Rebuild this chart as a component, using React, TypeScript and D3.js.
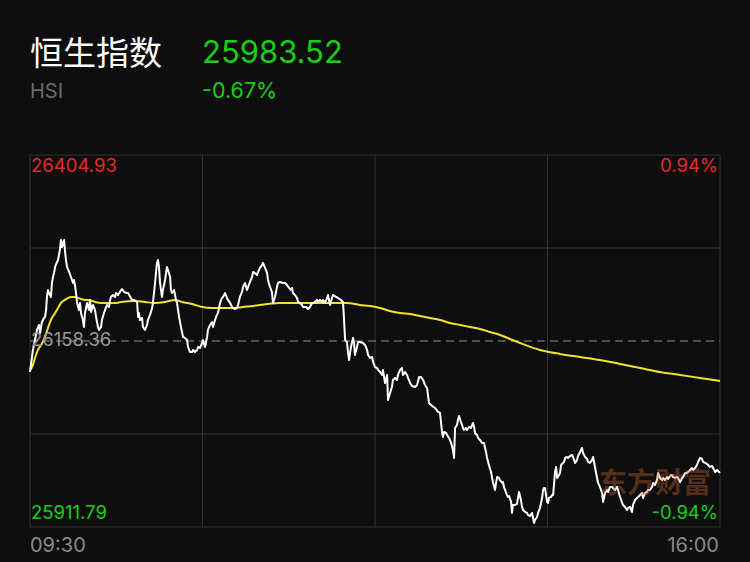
import React from "react";
import * as d3 from "d3";

// ---- Data ----
const indexName = "恒生指数";
const indexCode = "HSI";
const lastPrice = "25983.52";
const changePct = "-0.67%";
const prevClose = 26158.36;
const axisMax = 26404.93;
const axisMin = 25911.79;
const axisMaxLabel = "26404.93";
const axisMidLabel = "26158.36";
const axisMinLabel = "25911.79";
const pctMaxLabel = "0.94%";
const pctMinLabel = "-0.94%";
const timeLabels = ["09:30", "16:00"];
const totalMinutes = 330; // 09:30-12:00 + 13:00-16:00
const watermark = "东方财富";

// [minute offset from 09:30 (trading minutes), price]
const priceSeries: [number, number][] = [
  [0, 26117.3], [1.4, 26146.5], [2.4, 26159.7], [3.3, 26173.0], [4.3, 26179.6], [4.8, 26169.0],
  [5.3, 26177.0], [5.7, 26183.6], [6.7, 26188.9], [7.2, 26190.2], [7.7, 26199.5], [8.1, 26216.7],
  [8.6, 26226.0], [9.1, 26222.0], [10.0, 26216.7], [10.5, 26235.3], [11.0, 26243.2], [11.5, 26248.5],
  [12.0, 26256.5], [12.9, 26263.1], [13.4, 26265.8], [14.3, 26279.0], [14.8, 26292.3], [15.3, 26283.0],
  [15.8, 26288.3], [16.3, 26292.3], [16.7, 26279.0], [17.2, 26265.8], [17.7, 26256.5], [18.7, 26249.9],
  [19.6, 26243.2], [20.6, 26235.3], [21.0, 26239.3], [21.5, 26232.6], [22.0, 26222.0], [22.5, 26208.8],
  [23.4, 26199.5], [23.9, 26208.8], [24.4, 26195.5], [25.3, 26186.2], [25.8, 26177.0], [26.3, 26195.5],
  [27.3, 26208.8], [28.2, 26199.5], [28.7, 26212.8], [29.2, 26196.8], [30.1, 26206.1], [31.1, 26199.5],
  [31.6, 26190.2], [32.5, 26177.0], [33.0, 26173.0], [34.0, 26177.0], [34.4, 26186.2], [35.4, 26195.5],
  [35.9, 26199.5], [36.8, 26206.1], [37.8, 26203.5], [38.3, 26212.8], [38.7, 26216.7], [39.7, 26219.4],
  [40.7, 26216.7], [41.1, 26222.0], [42.1, 26219.4], [43.0, 26223.4], [44.0, 26227.3], [45.0, 26223.4],
  [45.9, 26222.0], [46.9, 26222.0], [48.8, 26212.8], [49.7, 26212.8], [51.2, 26210.1], [51.7, 26190.2],
  [52.1, 26195.5], [52.6, 26186.2], [53.6, 26188.9], [54.0, 26177.0], [55.0, 26173.0], [56.0, 26179.6],
  [56.4, 26186.2], [57.4, 26192.9], [58.4, 26202.1], [58.8, 26208.8], [59.8, 26235.3], [60.7, 26261.8],
  [61.2, 26265.8], [61.7, 26256.5], [62.2, 26235.3], [63.1, 26216.7], [63.6, 26226.0], [64.6, 26239.3],
  [65.5, 26256.5], [66.0, 26252.5], [67.0, 26243.2], [67.4, 26226.0], [67.9, 26222.0], [68.9, 26226.0],
  [69.8, 26212.8], [70.3, 26208.8], [71.3, 26190.2], [72.2, 26177.0], [73.2, 26163.7], [74.1, 26162.4],
  [75.1, 26159.7], [75.6, 26150.4], [76.5, 26143.8], [77.5, 26143.8], [78.0, 26146.5], [78.9, 26143.8],
  [79.9, 26146.5], [80.4, 26150.4], [81.3, 26149.1], [82.3, 26155.7], [82.7, 26159.7], [83.7, 26150.4],
  [84.7, 26163.7], [85.1, 26173.0], [86.1, 26179.6], [87.1, 26183.6], [87.5, 26177.0], [88.5, 26186.2],
  [89.4, 26192.9], [89.9, 26195.5], [90.9, 26208.8], [91.8, 26215.4], [92.3, 26216.7], [93.3, 26222.0],
  [94.2, 26215.4], [94.7, 26212.8], [95.7, 26208.8], [96.6, 26203.5], [97.1, 26202.1], [98.1, 26200.8],
  [99.0, 26202.1], [99.5, 26206.1], [100.4, 26216.7], [101.4, 26223.4], [101.9, 26230.0], [102.8, 26235.3],
  [103.8, 26226.0], [104.3, 26230.0], [105.2, 26236.6], [106.2, 26243.2], [106.7, 26249.9], [107.6, 26248.5],
  [108.6, 26245.9], [109.1, 26249.9], [110.0, 26255.2], [111.0, 26259.1], [111.4, 26261.8], [112.4, 26255.2],
  [113.4, 26248.5], [113.8, 26239.3], [114.8, 26230.0], [115.7, 26223.4], [116.2, 26208.8], [117.2, 26216.7],
  [118.1, 26230.0], [118.6, 26235.3], [119.6, 26236.6], [121.0, 26235.3], [122.0, 26235.3], [122.9, 26232.6],
  [123.9, 26228.7], [124.8, 26226.0], [125.3, 26228.7], [125.8, 26222.0], [126.7, 26219.4], [127.7, 26215.4],
  [128.2, 26210.1], [129.1, 26208.8], [130.1, 26206.1], [130.6, 26203.5], [132.0, 26203.5], [133.0, 26200.8],
  [133.9, 26203.5], [134.9, 26208.8], [135.4, 26208.8], [136.3, 26210.1], [137.3, 26212.8], [137.8, 26210.1],
  [138.7, 26212.8], [139.7, 26210.1], [140.1, 26212.8], [141.1, 26208.8], [142.1, 26215.4], [142.5, 26219.4],
  [143.5, 26206.1], [144.4, 26215.4], [144.9, 26219.4], [146.4, 26216.7], [147.3, 26215.4], [148.7, 26212.8],
  [149.7, 26210.1], [150.2, 26186.2], [150.7, 26159.7], [151.6, 26157.1], [152.1, 26142.5], [152.6, 26133.2],
  [153.5, 26150.4], [154.5, 26162.4], [155.0, 26155.7], [155.4, 26139.8], [156.4, 26150.4], [156.9, 26157.1],
  [157.8, 26157.1], [159.3, 26155.7], [160.2, 26153.1], [161.2, 26146.5], [161.7, 26139.8], [162.6, 26135.9],
  [163.6, 26137.2], [164.1, 26130.6], [165.0, 26123.9], [166.0, 26122.6], [166.5, 26120.0], [167.4, 26117.3],
  [168.4, 26113.3], [168.8, 26120.0], [169.8, 26102.7], [170.8, 26113.3], [171.2, 26080.2], [172.2, 26089.5],
  [173.1, 26097.4], [173.6, 26106.7], [174.6, 26109.4], [175.5, 26106.7], [176.0, 26113.3], [177.0, 26120.0],
  [177.9, 26122.6], [178.4, 26113.3], [179.4, 26117.3], [180.3, 26113.3], [180.8, 26109.4], [181.8, 26102.7],
  [182.7, 26098.7], [184.1, 26097.4], [185.1, 26100.1], [186.1, 26110.7], [187.0, 26110.7], [188.0, 26106.7],
  [188.9, 26100.1], [189.9, 26096.1], [190.8, 26076.2], [192.3, 26072.2], [193.7, 26069.6], [195.1, 26064.3],
  [196.1, 26063.0], [197.1, 26036.4], [197.5, 26031.1], [198.0, 26037.8], [199.0, 26036.4], [199.5, 26033.8],
  [200.4, 26029.8], [201.4, 26023.2], [202.3, 26013.9], [202.8, 26003.3], [203.3, 26043.1], [204.2, 26047.0],
  [204.7, 26053.7], [205.2, 26059.0], [206.1, 26051.0], [207.1, 26043.1], [207.6, 26040.4], [208.5, 26043.1],
  [209.0, 26040.4], [210.0, 26044.4], [210.9, 26043.1], [211.9, 26049.7], [212.4, 26044.4], [212.8, 26036.4],
  [213.8, 26033.8], [214.3, 26029.8], [215.2, 26027.2], [216.2, 26023.2], [217.1, 26023.2], [218.1, 26011.3],
  [218.6, 26003.3], [219.5, 25994.0], [220.5, 25984.7], [221.0, 25976.8], [221.5, 25970.2], [222.4, 25960.9],
  [222.9, 25970.2], [223.4, 25978.1], [224.3, 25976.8], [224.8, 25974.1], [225.8, 25970.2], [226.2, 25971.5],
  [226.7, 25964.9], [227.2, 25960.9], [228.1, 25954.3], [228.6, 25951.6], [229.1, 25952.9], [230.1, 25945.0],
  [230.5, 25930.4], [231.0, 25941.0], [232.0, 25941.0], [232.9, 25942.3], [233.4, 25950.3], [233.9, 25958.2],
  [234.8, 25947.6], [235.3, 25938.4], [235.8, 25934.4], [236.8, 25931.7], [237.7, 25930.4], [238.2, 25927.7],
  [239.2, 25926.4], [240.1, 25930.4], [240.6, 25923.8], [241.1, 25917.1], [241.5, 25921.1], [242.5, 25925.1],
  [243.0, 25930.4], [243.9, 25937.0], [244.9, 25950.3], [245.4, 25960.9], [245.8, 25963.5], [246.3, 25963.5],
  [247.3, 25945.0], [247.8, 25943.7], [248.2, 25950.3], [249.2, 25951.6], [249.7, 25954.3], [250.2, 25954.3],
  [251.1, 25984.7], [251.6, 25991.4], [252.1, 25976.8], [253.0, 25980.8], [253.5, 25983.4], [254.0, 25994.0],
  [254.9, 25996.7], [255.4, 25998.0], [255.9, 26003.3], [256.8, 26004.6], [257.3, 26003.3], [258.3, 26006.0],
  [259.2, 26007.3], [259.7, 26004.6], [260.7, 25996.7], [261.6, 26000.7], [262.1, 26006.0], [263.1, 26011.3],
  [264.0, 26016.6], [264.5, 26009.9], [265.5, 26004.6], [266.4, 26002.0], [266.9, 25998.0], [267.8, 25996.7],
  [268.8, 26000.7], [269.3, 26004.6], [270.2, 25991.4], [271.2, 25976.8], [271.7, 25970.2], [272.6, 25964.9],
  [273.6, 25956.9], [274.1, 25945.0], [275.0, 25956.9], [276.0, 25960.9], [276.5, 25958.2], [277.4, 25964.9],
  [278.4, 25964.9], [278.8, 25963.5], [279.8, 25960.9], [280.8, 25964.9], [281.2, 25960.9], [282.2, 25951.6],
  [283.2, 25943.7], [283.6, 25941.0], [284.6, 25938.4], [285.5, 25934.4], [286.0, 25937.0], [287.0, 25938.4],
  [287.9, 25931.7], [288.4, 25941.0], [289.4, 25947.6], [290.3, 25950.3], [290.8, 25951.6], [291.8, 25954.3],
  [292.7, 25956.9], [293.2, 25950.3], [294.2, 25956.9], [295.1, 25958.2], [295.6, 25960.9], [296.5, 25960.9],
  [297.5, 25964.9], [298.0, 25970.2], [298.9, 25967.5], [299.9, 25974.1], [300.4, 25983.4], [301.3, 25976.8],
  [302.3, 25974.1], [302.8, 25976.8], [303.7, 25974.1], [304.7, 25978.1], [305.2, 25975.5], [306.1, 25979.4],
  [307.1, 25980.8], [307.5, 25978.1], [308.5, 25976.8], [309.5, 25978.1], [309.9, 25976.8], [310.9, 25971.5],
  [311.9, 25976.8], [312.3, 25978.1], [313.3, 25983.4], [314.2, 25983.4], [314.7, 25984.7], [315.7, 25987.4],
  [316.6, 25990.0], [317.1, 25987.4], [318.1, 25990.0], [319.0, 25994.0], [319.5, 25998.0], [320.5, 26003.3],
  [321.4, 26002.0], [321.9, 25998.0], [322.9, 25996.7], [323.8, 25995.4], [324.3, 25994.0], [325.2, 25991.4],
  [326.2, 25992.7], [326.7, 25990.0], [327.7, 25984.7], [328.6, 25987.4], [330, 25983.5],
];

// [minute offset, average price]
const avgSeries: [number, number][] = [
  [0, 26120.0], [1.0, 26123.9], [2.4, 26135.9], [3.8, 26146.5], [5.3, 26153.1], [7.2, 26163.7],
  [8.6, 26175.6], [10.0, 26186.2], [12.0, 26195.5], [13.4, 26202.1], [14.8, 26208.8], [16.7, 26212.8],
  [18.2, 26215.4], [19.6, 26216.7], [21.5, 26216.7], [23.0, 26215.4], [24.4, 26214.1], [26.3, 26212.8],
  [27.7, 26212.8], [31.1, 26210.1], [34.0, 26208.8], [37.3, 26208.8], [40.7, 26208.8], [43.5, 26210.1],
  [50.2, 26211.4], [55.0, 26210.1], [59.8, 26208.8], [64.6, 26210.1], [69.4, 26212.8], [72.7, 26210.1],
  [77.5, 26207.4], [82.3, 26203.5], [87.1, 26202.1], [91.8, 26202.1], [97.1, 26202.1], [101.9, 26203.5],
  [106.7, 26204.8], [113.4, 26207.4], [119.6, 26208.8], [125.8, 26208.8], [132.5, 26208.8], [138.7, 26208.8],
  [144.9, 26208.8], [151.6, 26208.8], [157.8, 26206.1], [162.6, 26204.8], [167.4, 26202.1], [172.2, 26198.2],
  [177.0, 26195.5], [181.8, 26194.2], [186.5, 26191.5], [191.3, 26188.9], [196.1, 26186.2], [200.9, 26182.3],
  [205.7, 26179.6], [210.5, 26177.0], [215.2, 26174.3], [220.0, 26170.3], [224.8, 26166.4], [229.6, 26161.0],
  [234.4, 26155.7], [243.9, 26146.5], [253.5, 26141.2], [263.1, 26137.2], [272.6, 26133.2], [282.2, 26127.9],
  [291.8, 26122.6], [301.3, 26117.3], [310.9, 26113.3], [320.5, 26109.4], [330, 26105.4],
];

// ---- Style ----
const W = 750;
const H = 562;
const BG = "#0e0e0e";
const RED = "#e8292b";
const GREEN = "#16cf16";
const GRID = "#333333";
const LATIN = "Inter, 'Liberation Sans', sans-serif";
const CJK = "'Noto Sans CJK SC', sans-serif";

export default function App() {
  const left = 30, right = 720, top = 155, bottom = 527;
  const x = d3.scaleLinear().domain([0, totalMinutes]).range([left, right]);
  const y = d3.scaleLinear().domain([axisMin, axisMax]).range([bottom, top]);

  const line = d3
    .line<[number, number]>()
    .x((d) => x(d[0]))
    .y((d) => y(d[1]));
  const avgLine = d3
    .line<[number, number]>()
    .x((d) => x(d[0]))
    .y((d) => y(d[1]))
    .curve(d3.curveMonotoneX);

  const vTicks = [totalMinutes / 4, totalMinutes / 2, (totalMinutes * 3) / 4];
  const hTicks = [
    axisMin + (axisMax - axisMin) * 0.25,
    axisMin + (axisMax - axisMin) * 0.75,
  ];

  return (
    <div style={{ position: "fixed", left: 0, top: 0, width: W, height: H, background: BG }}>
      <svg width={W} height={H} style={{ display: "block" }}>
        <rect x={0} y={0} width={W} height={H} fill={BG} />
        {/* header */}
        <text x={30} y={65} fill="#ffffff" fontFamily={CJK} fontSize={33}>
          {indexName}
        </text>
        <text x={202} y={63} fill={GREEN} fontFamily={LATIN} fontSize={31}>
          {lastPrice}
        </text>
        <text x={30} y={98} fill="#6a6a6a" fontFamily={LATIN} fontSize={20}>
          {indexCode}
        </text>
        <text x={202} y={98} fill={GREEN} fontFamily={LATIN} fontSize={21.5}>
          {changePct}
        </text>

        {/* grid */}
        {vTicks.map((t) => (
          <line key={"v" + t} x1={x(t)} x2={x(t)} y1={top} y2={bottom} stroke={GRID} strokeWidth={1} />
        ))}
        {hTicks.map((t) => (
          <line key={"h" + t} x1={left} x2={right} y1={y(t)} y2={y(t)} stroke={GRID} strokeWidth={1} />
        ))}
        <rect x={left} y={top} width={right - left} height={bottom - top} fill="none" stroke={GRID} strokeWidth={1} />
        <line
          x1={left}
          x2={right}
          y1={y(prevClose)}
          y2={y(prevClose)}
          stroke="#8f8f8f"
          strokeWidth={1}
          strokeDasharray="8,5"
        />

        {/* lines */}
        <path d={avgLine(avgSeries) || ""} fill="none" stroke="#f2e130" strokeWidth={2} />
        <path d={line(priceSeries) || ""} fill="none" stroke="#ffffff" strokeWidth={2} strokeLinejoin="round" />

        {/* axis labels */}
        <text x={31} y={172} fill={RED} fontFamily={LATIN} fontSize={18.5}>
          {axisMaxLabel}
        </text>
        <text x={718} y={172} fill={RED} fontFamily={LATIN} fontSize={18.5} textAnchor="end">
          {pctMaxLabel}
        </text>
        <text x={31} y={y(prevClose) + 5} fill="#999999" fontFamily={LATIN} fontSize={18.5}>
          {axisMidLabel}
        </text>
        <text x={31} y={519} fill={GREEN} fontFamily={LATIN} fontSize={18.5}>
          {axisMinLabel}
        </text>
        <text x={718} y={519} fill={GREEN} fontFamily={LATIN} fontSize={18.5} textAnchor="end">
          {pctMinLabel}
        </text>
        <text x={30} y={552} fill="#8a8a8a" fontFamily={LATIN} fontSize={20}>
          {timeLabels[0]}
        </text>
        <text x={719} y={552} fill="#8a8a8a" fontFamily={LATIN} fontSize={20} textAnchor="end">
          {timeLabels[1]}
        </text>

        {/* watermark */}
        <text
          x={655}
          y={493}
          fill="#c8632d"
          opacity={0.38}
          fontFamily={CJK}
          fontWeight={700}
          fontSize={28}
          textAnchor="middle"
        >
          {watermark}
        </text>
      </svg>
    </div>
  );
}
